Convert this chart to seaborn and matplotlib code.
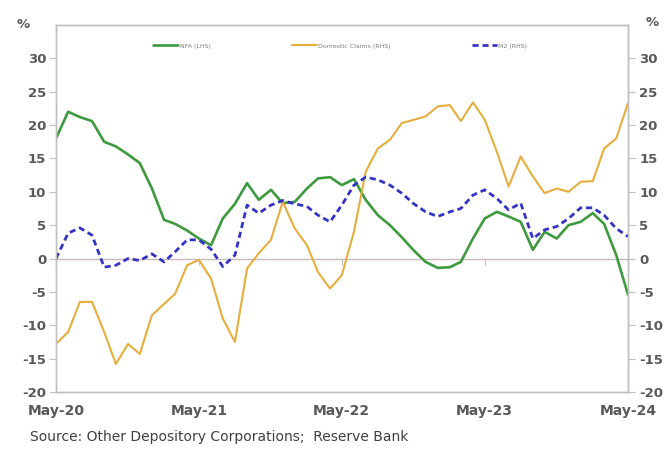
import matplotlib
matplotlib.use("Agg")
import matplotlib.pyplot as plt
import matplotlib.dates as mdates
import pandas as pd
import seaborn as sns

# monthly series, May-20 .. May-24 (% y/y)
months = pd.date_range("2020-05-01", periods=49, freq="MS")
nfa = [18.0, 22.0, 21.2, 20.6, 17.5, 16.8, 15.6, 14.3, 10.5, 5.8,
       5.2, 4.2, 3.0, 2.0, 6.0, 8.2, 11.3, 8.8, 10.3, 8.3,
       8.5, 10.5, 12.0, 12.2, 11.0, 11.9, 8.8, 6.5, 5.0, 3.2,
       1.2, -0.5, -1.4, -1.3, -0.5, 3.0, 6.0, 7.0, 6.3, 5.5,
       1.3, 4.0, 3.0, 5.0, 5.5, 6.8, 5.2, 0.5, -5.4]
domestic_claims = [-12.8, -11.0, -6.5, -6.5, -11.0, -15.8, -12.8, -14.3, -8.5, -6.8,
                   -5.3, -1.0, -0.2, -3.0, -9.0, -12.5, -1.5, 0.8, 2.8, 8.5,
                   4.5, 2.0, -2.0, -4.5, -2.5, 4.0, 13.0, 16.5, 17.8, 20.3,
                   20.8, 21.3, 22.8, 23.0, 20.6, 23.4, 20.8, 16.0, 10.8, 15.3,
                   12.3, 9.8, 10.5, 10.0, 11.5, 11.6, 16.5, 18.0, 23.3]
m2 = [0.0, 3.8, 4.6, 3.5, -1.3, -1.0, 0.0, -0.3, 0.7, -0.5,
      1.0, 2.8, 2.8, 1.4, -1.2, 0.5, 8.0, 6.8, 8.0, 8.7,
      8.2, 7.8, 6.5, 5.5, 8.0, 11.0, 12.2, 11.8, 11.0, 9.8,
      8.2, 7.0, 6.3, 7.0, 7.5, 9.5, 10.3, 9.0, 7.3, 8.3,
      3.0, 4.3, 4.8, 6.0, 7.6, 7.6, 6.5, 4.5, 3.3]
y_ticks = [-20, -15, -10, -5, 0, 5, 10, 15, 20, 25, 30]

df = pd.DataFrame({"date": months, "nfa": nfa, "dc": domestic_claims, "m2": m2})

sns.set_style("white")
plt.rcParams["font.family"] = ["DejaVu Sans"]
plt.rcParams["axes.unicode_minus"] = False

GREEN = "#3E9A3E"
ORANGE = "#E6AE3C"
BLUE = "#3434C4"
AXIS = "#BFBFBF"
TXT = "#595959"

fig = plt.figure(figsize=(6.7, 4.49), dpi=100)
ax = fig.add_axes([56 / 670, 1 - 392 / 449, 572 / 670, 367 / 449])
ax2 = ax.twinx()

sns.lineplot(data=df, x="date", y="nfa", ax=ax, color=GREEN, lw=1.9, label="NFA (LHS)", legend=False)
sns.lineplot(data=df, x="date", y="dc", ax=ax2, color=ORANGE, lw=1.5, label="Domestic Claims (RHS)", legend=False)
sns.lineplot(data=df, x="date", y="m2", ax=ax2, color=BLUE, lw=2.0, label="M2 (RHS)", legend=False)
ax2.lines[-1].set_dashes((2.2, 1.4))

for a in (ax, ax2):
    a.set_ylim(-20, 35)
    a.set_yticks(y_ticks)
    a.set_xlim(months[0], months[-1])
    a.set_xlabel("")
    a.set_ylabel("")
    for s in a.spines.values():
        s.set_color(AXIS)
        s.set_linewidth(1.0)
    for lab in a.get_yticklabels():
        lab.set_fontweight("bold")

ax.axhline(0, color="#C8B8B8", lw=1.0, zorder=0)
# category axis crossing at zero, with year ticks
zero_axis = ax.secondary_xaxis(20 / 55)
zero_axis.set_xticks(months[::12])
zero_axis.tick_params(axis="x", length=4, color=AXIS, labelbottom=False, direction="out")
zero_axis.spines["bottom"].set_visible(False)

ax.set_xticks(months[::12])
ax.xaxis.set_major_formatter(mdates.DateFormatter("%b-%y"))
ax.tick_params(axis="x", length=0, pad=9, labelsize=10, labelcolor=TXT)
ax.tick_params(axis="y", left=True, length=5, color=AXIS, pad=2, labelsize=9.5, labelcolor=TXT)
ax2.tick_params(axis="y", right=True, length=5, color=AXIS, pad=3, labelsize=9.5, labelcolor=TXT)
for lab in ax.get_xticklabels():
    lab.set_fontweight("bold")

fig.text(23 / 670, 1 - 25 / 449, "%", ha="center", va="center", fontsize=9.5, color=TXT, fontweight="bold")
fig.text(652 / 670, 1 - 23 / 449, "%", ha="center", va="center", fontsize=9.5, color=TXT, fontweight="bold")

handles = ax.get_lines()[:1] + ax2.get_lines()[:2]
leg = ax.legend(handles, [h.get_label() for h in handles], loc="center", bbox_to_anchor=(0.497, 0.943),
                ncol=3, frameon=False, fontsize=4.5, handlelength=4, handletextpad=0.2,
                columnspacing=13)
for t in leg.get_texts():
    t.set_color("#7F7F7F")

fig.text(30 / 670, 1 - 437 / 449, "Source: Other Depository Corporations;  Reserve Bank",
         ha="left", va="center", fontsize=10, color="#404040")

fig.savefig("out.png", dpi=100)
